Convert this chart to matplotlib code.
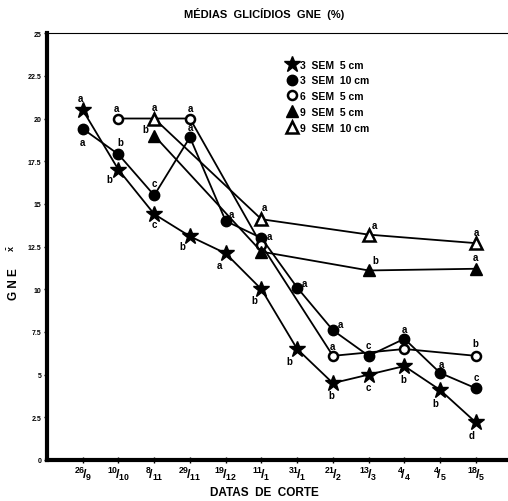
import numpy as np
import matplotlib.pyplot as plt
from matplotlib.lines import Line2D

plt.rcParams['font.family'] = ['Liberation Sans', 'DejaVu Sans']
plt.rcParams['mathtext.fontset'] = 'custom'
plt.rcParams['mathtext.rm'] = 'Liberation Sans:bold'
plt.rcParams['mathtext.it'] = 'Liberation Sans:bold'
plt.rcParams['mathtext.bf'] = 'Liberation Sans:bold'

dates = [("26", "9"), ("10", "10"), ("8", "11"), ("29", "11"), ("19", "12"),
         ("11", "1"), ("31", "1"), ("21", "2"), ("13", "3"), ("4", "4"),
         ("4", "5"), ("18", "5")]
pos = np.arange(1, 13)

# 3 SEM: every date; 6 SEM: every 2nd from 10/10; 9 SEM: every 3rd from 8/11
sem3_5 = [20.5, 17.0, 14.4, 13.1, 12.1, 10.0, 6.5, 4.5, 5.0, 5.5, 4.1, 2.2]
sem3_10 = [19.4, 17.9, 15.5, 18.9, 14.0, 13.0, 10.1, 7.6, 6.1, 7.1, 5.1, 4.2]
sem6_5 = [20.0, 20.0, 12.6, 6.1, 6.5, 6.1]
sem9_5 = [19.0, 12.2, 11.1, 11.2]
sem9_10 = [20.0, 14.1, 13.2, 12.7]

let3_5 = ['a', 'b', 'c', 'b', 'a', 'b', 'b', 'b', 'c', 'b', 'b', 'd']
let3_10 = ['a', 'b', 'c', 'a', 'a', 'a', 'a', 'a', 'c', 'a', 'a', 'c']
let6_5 = ['a', 'a', '', 'a', '', 'b']
let9_5 = ['b', '', 'b', 'a']
let9_10 = ['a', 'a', 'a', 'a']

# letter offsets in pixels
off3_5 = [(-2, 12), (-9, -9), (0, -10), (-8, -10), (-6, -12), (-7, -11),
          (-8, -12), (-2, -12), (0, -12), (-1, -13), (-5, -13), (-4, -13)]
off3_10 = [(0, -13), (2, 12), (0, 12), (0, 10), (6, 7), (8, 2), (7, 5),
           (8, 6), (0, 11), (0, 10), (1, 9), (0, 11)]
off6_5 = [(-2, 11), (0, 11), (0, 0), (0, 10), (0, 0), (0, 13)]
off9_5 = [(-9, 7), (0, 0), (7, 10), (0, 12)]
off9_10 = [(0, 12), (3, 12), (6, 10), (1, 11)]

series = [
    (pos, sem3_5, let3_5, off3_5, dict(marker='*', ms=12, mfc='black'), "3  SEM  5 cm"),
    (pos, sem3_10, let3_10, off3_10, dict(marker='o', ms=7.5, mfc='black'), "3  SEM  10 cm"),
    (pos[1::2], sem6_5, let6_5, off6_5, dict(marker='o', ms=6.5, mfc='white', mew=1.8), "6  SEM  5 cm"),
    (pos[2::3], sem9_5, let9_5, off9_5, dict(marker='^', ms=8, mfc='black'), "9  SEM  5 cm"),
    (pos[2::3], sem9_10, let9_10, off9_10, dict(marker='^', ms=8, mfc='white', mew=1.8), "9  SEM  10 cm"),
]

fig = plt.figure(figsize=(5.08, 5.02), dpi=100)
ax = fig.add_axes([0.0925, 0.0817, 0.9075, 0.8503])

handles = []
for x, y, lets, offs, mk, lab in series:
    ax.plot(x, y, color='black', lw=1.3, mec='black', **mk)
    for xi, yi, l, (dx, dy) in zip(x, y, lets, offs):
        if l:
            ax.annotate(l, (xi, yi), xytext=(dx, dy), textcoords='offset pixels',
                        ha='center', va='center', fontsize=7, fontweight='bold')
    handles.append(Line2D([], [], ls='none', color='black', mec='black', **mk))

ax.legend(handles, [s[5] for s in series], loc='upper left',
          bbox_to_anchor=(0.5, 0.96), frameon=False, handletextpad=0.3,
          handlelength=1.0, labelspacing=0.55, prop=dict(size=7.5, weight='bold'))

ax.set_xlim(0, 12.9)
ax.set_ylim(0, 25)
ax.set_xticks(pos)
ax.set_xticklabels([r"$^{%s}\!/_{%s}$" % (a, b) for a, b in dates], fontsize=9)
yt = np.arange(0, 25.1, 2.5)
ax.set_yticks(yt)
ax.set_yticklabels(["%g" % v for v in yt], fontsize=5, fontweight='bold')
ax.tick_params(axis='y', length=2, width=1, pad=2)
ax.tick_params(axis='x', direction='inout', length=5, width=1, pad=1)

ax.spines['left'].set_linewidth(3)
ax.spines['bottom'].set_linewidth(3)
ax.spines['top'].set_linewidth(0.8)
ax.spines['right'].set_visible(False)

fig.text(0.52, 0.972, "MÉDIAS  GLICÍDIOS  GNE  (%)", ha='center', va='center',
         fontsize=8, fontweight='bold')
fig.text(0.52, 0.018, "DATAS  DE  CORTE", ha='center', va='center',
         fontsize=8.5, fontweight='bold')
fig.text(0.028, 0.434, "G N E", rotation=90, ha='center', va='center',
         fontsize=8.5, fontweight='bold')
fig.text(0.022, 0.504, r"$\bar{x}$", rotation=90, ha='center', va='center',
         fontsize=6.5)

fig.savefig("out.png", dpi=100)
